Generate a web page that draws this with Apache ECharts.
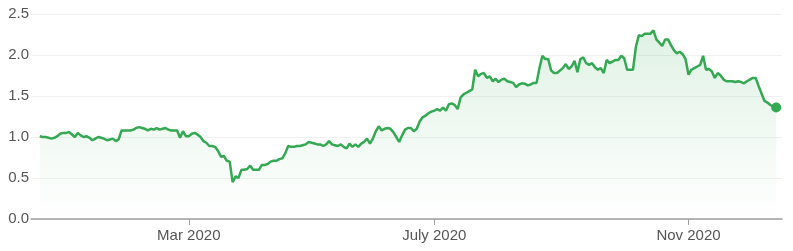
<!DOCTYPE html>
<html>
<head>
<meta charset="utf-8">
<script src="https://cdn.jsdelivr.net/npm/echarts@6/dist/echarts.min.js"></script>
<style>
html,body{margin:0;padding:0;background:#fff;}
#chart{width:793px;height:251px;}
</style>
</head>
<body>
<div id="chart"></div>
<script>
// Daily closing values (one per trading day)
const prices = [
1.01,1.00,1.00,0.99,0.98,0.99,1.01,1.04,1.05,1.05,
1.06,1.03,1.00,1.05,1.02,1.00,1.01,0.99,0.96,0.98,
1.00,0.99,0.98,0.96,0.97,0.98,0.95,0.97,1.08,1.08,
1.08,1.08,1.09,1.11,1.12,1.11,1.10,1.08,1.10,1.09,
1.11,1.09,1.10,1.11,1.09,1.08,1.08,1.08,0.99,1.07,
1.01,1.01,1.04,1.05,1.03,1.00,0.95,0.93,0.89,0.89,
0.88,0.83,0.76,0.77,0.71,0.70,0.45,0.52,0.50,0.60,
0.60,0.61,0.65,0.60,0.60,0.60,0.66,0.66,0.67,0.70,
0.71,0.71,0.73,0.74,0.80,0.89,0.88,0.88,0.89,0.89,
0.90,0.91,0.94,0.93,0.92,0.91,0.91,0.89,0.91,0.95,
0.91,0.90,0.89,0.91,0.88,0.86,0.92,0.88,0.91,0.88,
0.92,0.94,0.98,0.92,0.98,1.07,1.13,1.08,1.10,1.11,
1.10,1.06,1.00,0.94,1.02,1.09,1.11,1.11,1.07,1.10,
1.19,1.24,1.26,1.29,1.31,1.32,1.34,1.32,1.36,1.32,
1.40,1.41,1.39,1.34,1.48,1.52,1.54,1.56,1.58,1.82,
1.74,1.77,1.78,1.72,1.74,1.68,1.71,1.67,1.70,1.71,
1.68,1.67,1.66,1.61,1.64,1.655,1.65,1.63,1.64,1.66,
1.66,1.84,1.99,1.95,1.95,1.81,1.78,1.78,1.81,1.84,
1.89,1.83,1.86,1.93,1.79,1.95,1.97,1.90,1.88,1.90,
1.85,1.82,1.84,1.78,1.94,1.90,1.92,1.94,1.94,1.99,
1.96,1.82,1.82,1.82,2.10,2.24,2.23,2.26,2.26,2.26,
2.30,2.19,2.15,2.11,2.19,2.19,2.12,2.06,2.02,2.04,
2.01,1.95,1.76,1.82,1.84,1.86,1.88,1.99,1.82,1.83,
1.80,1.72,1.78,1.75,1.70,1.68,1.68,1.68,1.67,1.68,
1.67,1.655,1.68,1.70,1.72,1.72,1.62,1.53,1.44,1.42,
1.39,1.37,1.36
];
// Month tick positions (trading-day index) and their labels
const tickIndex = [51, 135, 222];
const tickLabels = ['Mar 2020', 'July 2020', 'Nov 2020'];
// Y axis ticks
const yTicks = [0, 0.5, 1.0, 1.5, 2.0, 2.5];

const lineData = prices.map((v, i) => [i, v]);
const last = prices.length - 1;

const chart = echarts.init(document.getElementById('chart'), null, {renderer: 'canvas'});
chart.setOption({
  animation: false,
  backgroundColor: '#ffffff',
  grid: {left: 31, right: 11, top: 14, bottom: 32, containLabel: false},
  xAxis: {
    type: 'value',
    min: -3,
    max: last + 2,
    splitLine: {show: false},
    axisLine: {show: true, lineStyle: {color: '#9e9e9e', width: 1.5}},
    axisTick: {show: true, length: 6, customValues: tickIndex, lineStyle: {color: '#9e9e9e', width: 1}},
    axisLabel: {
      customValues: tickIndex,
      formatter: v => tickLabels[tickIndex.indexOf(v)] || '',
      color: '#555555', fontSize: 15, fontFamily: 'Liberation Sans, Arial, sans-serif', margin: 9
    }
  },
  yAxis: {
    type: 'value',
    min: yTicks[0],
    max: yTicks[yTicks.length - 1],
    interval: 0.5,
    axisLine: {show: false},
    axisTick: {show: false},
    splitLine: {show: true, lineStyle: {color: '#f1f1f1', width: 1}},
    axisLabel: {
      formatter: v => v.toFixed(1),
      color: '#555555', fontSize: 15, fontFamily: 'Liberation Sans, Arial, sans-serif', margin: 2
    }
  },
  series: [
    {
      type: 'line',
      data: lineData,
      showSymbol: false,
      lineStyle: {color: '#34a853', width: 2.5},
      areaStyle: {
        color: new echarts.graphic.LinearGradient(0, 0, 0, 1, [
          {offset: 0, color: 'rgba(52,168,83,0.22)'},
          {offset: 1, color: 'rgba(52,168,83,0.0)'}
        ])
      },
      z: 2
    },
    {
      type: 'scatter',
      data: [[last, prices[last]]],
      symbol: 'circle',
      symbolSize: 10,
      itemStyle: {color: '#34a853', opacity: 1},
      z: 3
    }
  ]
});
</script>
</body>
</html>
